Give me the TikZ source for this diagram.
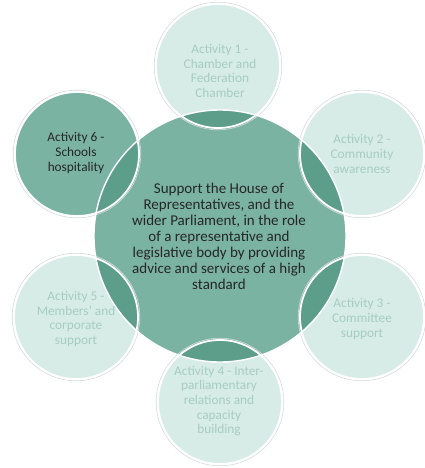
\documentclass[tikz,border=0pt]{standalone}
\usepackage{fontspec}
\setmainfont{Carlito}
\definecolor{hubgreen}{HTML}{7AB3A2}
\definecolor{lensgreen}{HTML}{5D9E8B}
\definecolor{palegreen}{HTML}{D7ECE6}
\definecolor{paletext}{HTML}{A6CDC1}
\definecolor{rimgray}{HTML}{D3DBD8}
\tikzset{
	hub/.style={circle, fill=hubgreen, minimum size=252pt, inner sep=0pt},
	spoke/.style={circle, fill=palegreen, minimum size=124pt, inner sep=0pt},
	spokeon/.style={spoke, fill=hubgreen},
	hubtext/.style={align=center, font=\fontsize{15}{16}\selectfont, text=black!85},
	spoketext/.style={align=center, font=\fontsize{13.3}{14.6}\selectfont, text=paletext},
	spoketexton/.style={spoketext, text=black!85}
}
\begin{document}
\begin{tikzpicture}[x=1pt, y=-1pt, line join=round, line cap=round]
				\useasboundingbox (0,0) rectangle (424,468);
				\node[hub] (hub) at (220,236) {};
				\foreach \n/\p/\s in {a1/{218,66}/spoke, a2/{362,154}/spoke, a3/{362,317}/spoke, a4/{220,402}/spoke, a5/{76,317}/spoke, a6/{77,154}/spokeon}
				\node[\s] (\n) at (\p) {};
				% darker lens where a spoke covers the hub
				\foreach \n in {a1,a2,a3,a4,a5,a6}{
					\begin{scope}
						\clip (\n.center) circle (62);
						\fill[lensgreen] (hub.center) circle (126);
					\end{scope}
				}
				\foreach \n in {a1,a2,a3,a4,a5,a6}{
					\draw[rimgray, line width=0.6pt] (\n.center) circle (63.8);
					\draw[white, line width=1.8pt] (\n.center) circle (62);
				}
				\draw[white, line width=1.4pt] (hub.center) circle (126);
				% texts
				\node[hubtext] (goal) at (219,236) {Support the House of\\Representatives, and the\\wider Parliament, in the role\\of a representative and\\legislative body by providing\\advice and services of a high\\standard};
				\node[spoketext] (t1) at (220,71) {Activity 1 -\\Chamber and\\Federation\\Chamber};
				\node[spoketext] (t2) at (362,154) {Activity 2 -\\Community\\awareness};
				\node[spoketext] (t3) at (362,319) {Activity 3 -\\Committee\\support};
				\node[spoketext] (t4) at (219,401) {Activity 4 - Inter-\\parliamentary\\relations and\\capacity\\building};
				\node[spoketext] (t5) at (76,319) {Activity 5 -\\Members' and\\corporate\\support};
				\node[spoketexton] (t6) at (76,153) {Activity 6 -\\Schools\\hospitality};
			\end{tikzpicture}
\end{document}
